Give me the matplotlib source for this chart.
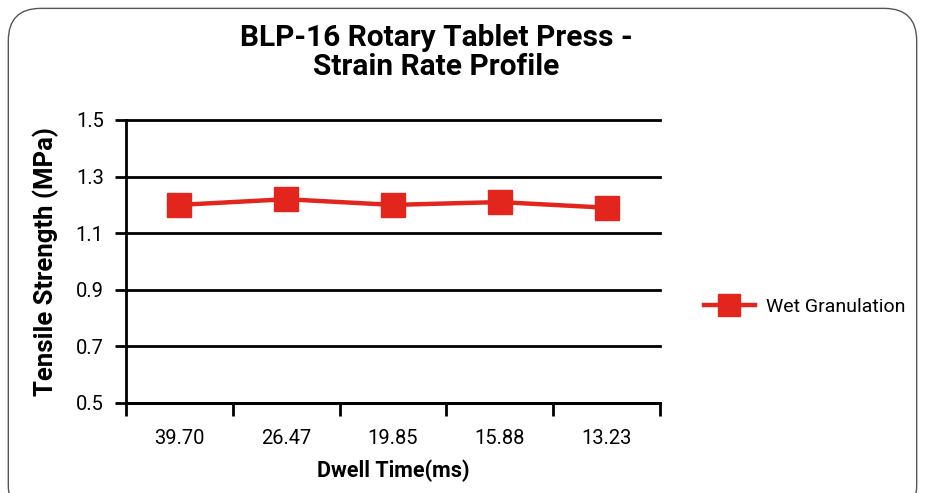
import matplotlib
matplotlib.use('Agg')
import matplotlib.pyplot as plt
from matplotlib.patches import FancyBboxPatch
import numpy as np

# data
dwell_time = ['39.70', '26.47', '19.85', '15.88', '13.23']
tensile_strength = [1.20, 1.22, 1.20, 1.21, 1.19]
y_ticks = [0.5, 0.7, 0.9, 1.1, 1.3, 1.5]

plt.rcParams['font.family'] = ['Roboto', 'DejaVu Sans']
red = '#E3261D'

fig = plt.figure(figsize=(9.25, 4.93), dpi=100)

# rounded frame around the whole chart
frame = FancyBboxPatch((0.009, -0.05), 0.982, 1.033,
                       boxstyle='round,pad=0,rounding_size=0.035',
                       transform=fig.transFigure, fill=False,
                       edgecolor='#555555', linewidth=1.0,
                       mutation_aspect=925 / 493)
fig.patches.append(frame)

ax = fig.add_axes([0.1362, 0.1826, 0.5773, 0.574])
x = np.arange(len(dwell_time))
ax.plot(x, tensile_strength, color=red, linewidth=3.2, marker='s',
        markersize=17, markerfacecolor=red, markeredgecolor=red,
        label='Wet Granulation', zorder=3)

ax.set_ylim(0.5, 1.5)
ax.set_yticks(y_ticks)
ax.set_yticklabels(['0.5', '0.7', '0.9', '1.1', '1.3', '1.5'])
ax.grid(axis='y', color='black', linewidth=2)
for gl in ax.get_ygridlines():
    gl.set_clip_on(False)
ax.set_axisbelow(True)

ax.set_xlim(-0.5, len(dwell_time) - 0.5)
ax.set_xticks(np.arange(-0.5, len(dwell_time), 1.0))
ax.set_xticklabels([])
ax.set_xticks(x, minor=True)
ax.set_xticklabels(dwell_time, minor=True)
ax.tick_params(axis='x', which='major', length=9, width=2, direction='out')
ax.tick_params(axis='x', which='minor', length=0, pad=19, labelsize=14.5)
ax.tick_params(axis='y', length=8, width=2, direction='out', pad=8, labelsize=14.5)

for s in ['top', 'right']:
    ax.spines[s].set_visible(False)
for s in ['left', 'bottom']:
    ax.spines[s].set_linewidth(2)

ax.set_xlabel('Dwell Time(ms)', fontsize=15.5, fontweight='bold', labelpad=8)
ax.set_ylabel('Tensile Strength (MPa)', fontsize=18.5, fontweight='bold',
              labelpad=12)

fig.text(0.472, 0.893, 'BLP-16 Rotary Tablet Press -\nStrain Rate Profile',
         ha='center', va='center', fontsize=21.5, fontweight='bold',
         linespacing=1.05)

leg = ax.legend(loc='center left', bbox_to_anchor=(1.05, 0.34), frameon=False,
                fontsize=14, handlelength=2.6, markerscale=0.95,
                handletextpad=0.6)

fig.savefig('out.png', dpi=100)
